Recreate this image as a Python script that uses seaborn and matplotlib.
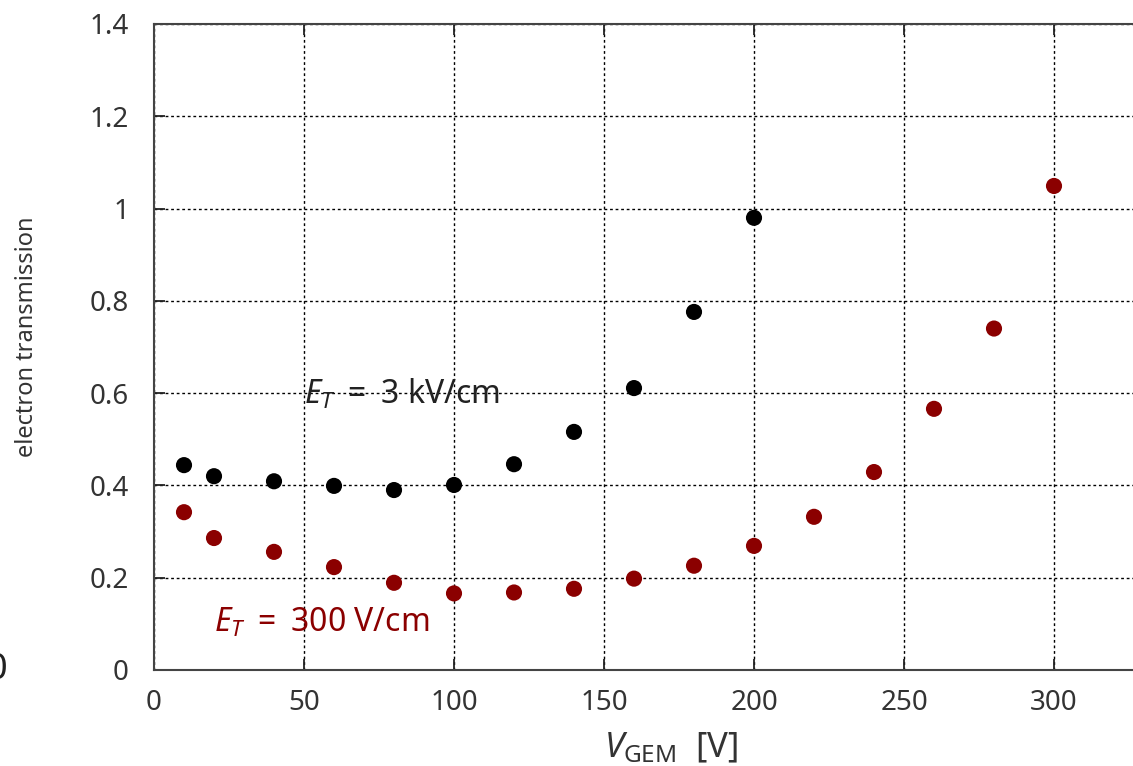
import numpy as np
import pandas as pd
import matplotlib
matplotlib.use("Agg")
import matplotlib.pyplot as plt
import seaborn as sns

# Data
v_black = [10, 20, 40, 60, 80, 100, 120, 140, 160, 180, 200]
t_black = [0.444, 0.420, 0.409, 0.399, 0.390, 0.401, 0.446, 0.516, 0.611, 0.776, 0.980]
v_red = [10, 20, 40, 60, 80, 100, 120, 140, 160, 180, 200, 220, 240, 260, 280, 300]
t_red = [0.342, 0.286, 0.256, 0.223, 0.189, 0.166, 0.168, 0.176, 0.198, 0.226, 0.269,
         0.332, 0.429, 0.566, 0.740, 1.049]
series_names = ["3 kV/cm", "300 V/cm"]
series_colors = ["#000000", "#8b0000"]
x_ticks = [0, 50, 100, 150, 200, 250, 300]
y_ticks = [0, 0.2, 0.4, 0.6, 0.8, 1.0, 1.2, 1.4]
y_tick_labels = ["0", "0.2", "0.4", "0.6", "0.8", "1", "1.2", "1.4"]

df = pd.concat([
    pd.DataFrame({"V": v_black, "T": t_black, "field": series_names[0]}),
    pd.DataFrame({"V": v_red, "T": t_red, "field": series_names[1]}),
], ignore_index=True)

sns.set_theme(style="white")
plt.rcParams["font.family"] = ["Noto Sans", "DejaVu Sans"]
plt.rcParams["mathtext.fontset"] = "custom"
plt.rcParams["mathtext.rm"] = "Noto Sans"
plt.rcParams["mathtext.sf"] = "Noto Sans"
plt.rcParams["mathtext.it"] = "Noto Sans:italic"

fig = plt.figure(figsize=(11.33, 7.66), dpi=100)
ax = fig.add_axes([154 / 1133, 96 / 766, 990 / 1133, 646 / 766])

sns.scatterplot(data=df, x="V", y="T", hue="field", palette=series_colors,
                s=135, edgecolor="none", legend=False, ax=ax, zorder=3)

ax.set_xlim(0, 330)
ax.set_ylim(0, 1.4)
ax.set_xticks(x_ticks)
ax.set_yticks(y_ticks)
ax.set_yticklabels(y_tick_labels)
ax.grid(True, color="black", linestyle=(0, (2, 2)), linewidth=1.0)
ax.set_axisbelow(True)
for side in ["left", "bottom", "top"]:
    ax.spines[side].set_visible(True)
    ax.spines[side].set_color("#444444")
    ax.spines[side].set_linewidth(1.5)
ax.spines["right"].set_visible(False)
ax.tick_params(axis="both", direction="in", length=8, width=1.3, color="#222222",
               labelsize=20, labelcolor="#333333", top=True, left=True, bottom=True,
               right=False)
ax.tick_params(axis="x", pad=14)
ax.tick_params(axis="y", pad=18)

ax.set_xlabel(r"$V_{\mathsf{GEM}}$  [V]", fontsize=25, color="#333333")
ax.xaxis.set_label_coords((671 - 154) / 990, -(748 - 670) / 646)
ax.xaxis.label.set_va("center")
ax.set_ylabel("electron transmission", fontsize=17, color="#333333")
ax.yaxis.set_label_coords(-(154 - 27) / 990, (670 - 337) / 646)
ax.yaxis.label.set_va("center")

ax.text(50, 0.598, r"$E_T\ =\ $3 kV/cm", fontsize=23, color="#222222",
        va="center", ha="left")
ax.text(20, 0.102, r"$E_T\ =\ $300 V/cm", fontsize=23, color="#8b0000",
        va="center", ha="left")

# partially clipped glyph at the left edge of the reference
fig.text(-0.012, 96 / 766, "0", fontsize=26, color="#222222", va="center", ha="left")

fig.savefig("out.png", dpi=100)
